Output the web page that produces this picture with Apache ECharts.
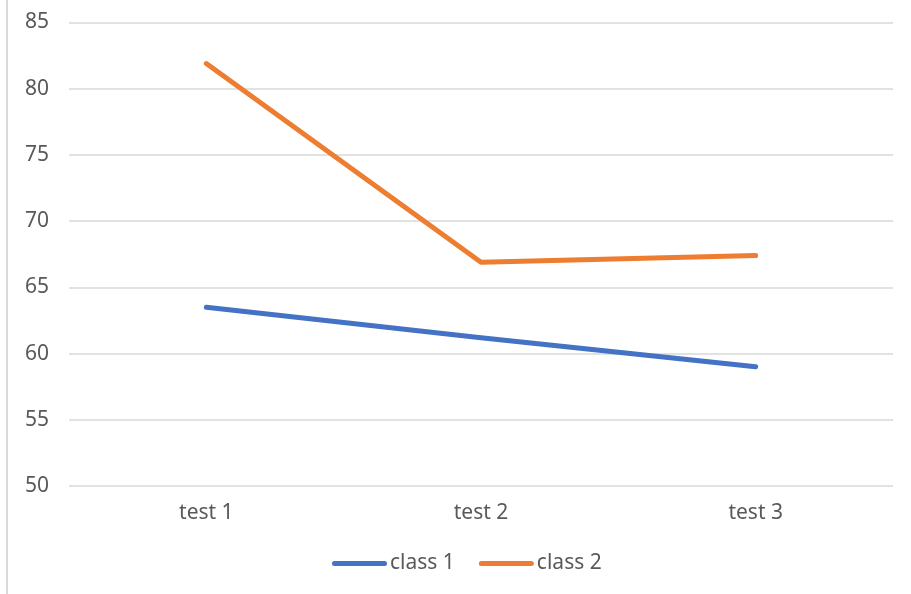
<!DOCTYPE html>
<html>
<head>
<meta charset="utf-8">
<title>class scores</title>
<script src="https://cdn.jsdelivr.net/npm/echarts@6/dist/echarts.min.js"></script>
<style>
  html, body { margin: 0; padding: 0; background: #ffffff; }
  #chart { width: 911px; height: 594px; }
</style>
</head>
<body>
<div id="chart"></div>
<script>
// Test names along the x axis
const categories = ['test 1', 'test 2', 'test 3'];
// Average score per test for each class
const class1 = [63.5, 61.2, 59.0];
const class2 = [81.9, 66.9, 67.4];
// Value axis range
const yMin = 50;
const yMax = 85;
const yStep = 5;

const labelColor = '#595959';
const gridColor = '#d9d9d9';
const fontFamily = '"Noto Sans", sans-serif';
// Rounded line swatch for the legend
const legendIcon = 'path://M2.5,0 L52.5,0 A2.5,2.5 0 0 1 52.5,5 L2.5,5 A2.5,2.5 0 0 1 2.5,0 Z';

const chart = echarts.init(document.getElementById('chart'), null, { renderer: 'canvas' });

chart.setOption({
  backgroundColor: '#ffffff',
  animation: false,
  graphic: [{
    type: 'line',
    shape: { x1: 7, y1: 0, x2: 7, y2: 594 },
    style: { stroke: gridColor, lineWidth: 2 }
  }],
  grid: { left: 69, right: 18, top: 22.5, bottom: 108, containLabel: false },
  legend: {
    bottom: 15,
    left: 327,
    icon: legendIcon,
    itemWidth: 55,
    itemHeight: 5,
    itemGap: 24,
    textStyle: { color: labelColor, fontSize: 21, fontFamily: fontFamily, padding: [0, 0, 0, -2] },
    data: ['class 1', 'class 2']
  },
  xAxis: {
    type: 'category',
    data: categories,
    boundaryGap: true,
    axisLine: { show: false },
    axisTick: { show: false },
    axisLabel: { color: labelColor, fontSize: 21, fontFamily: fontFamily, margin: 17 }
  },
  yAxis: {
    type: 'value',
    min: yMin,
    max: yMax,
    interval: yStep,
    axisLine: { show: false },
    axisTick: { show: false },
    axisLabel: { color: labelColor, fontSize: 21, fontFamily: fontFamily, margin: 20 },
    splitLine: { lineStyle: { color: gridColor, width: 1.5 } }
  },
  series: [
    {
      name: 'class 1',
      type: 'line',
      data: class1,
      symbol: 'none',
      color: '#4472C4',
      lineStyle: { width: 5, cap: 'round', join: 'round', color: '#4472C4' }
    },
    {
      name: 'class 2',
      type: 'line',
      data: class2,
      symbol: 'none',
      color: '#ED7D31',
      lineStyle: { width: 5, cap: 'round', join: 'round', color: '#ED7D31' }
    }
  ]
});
</script>
</body>
</html>
